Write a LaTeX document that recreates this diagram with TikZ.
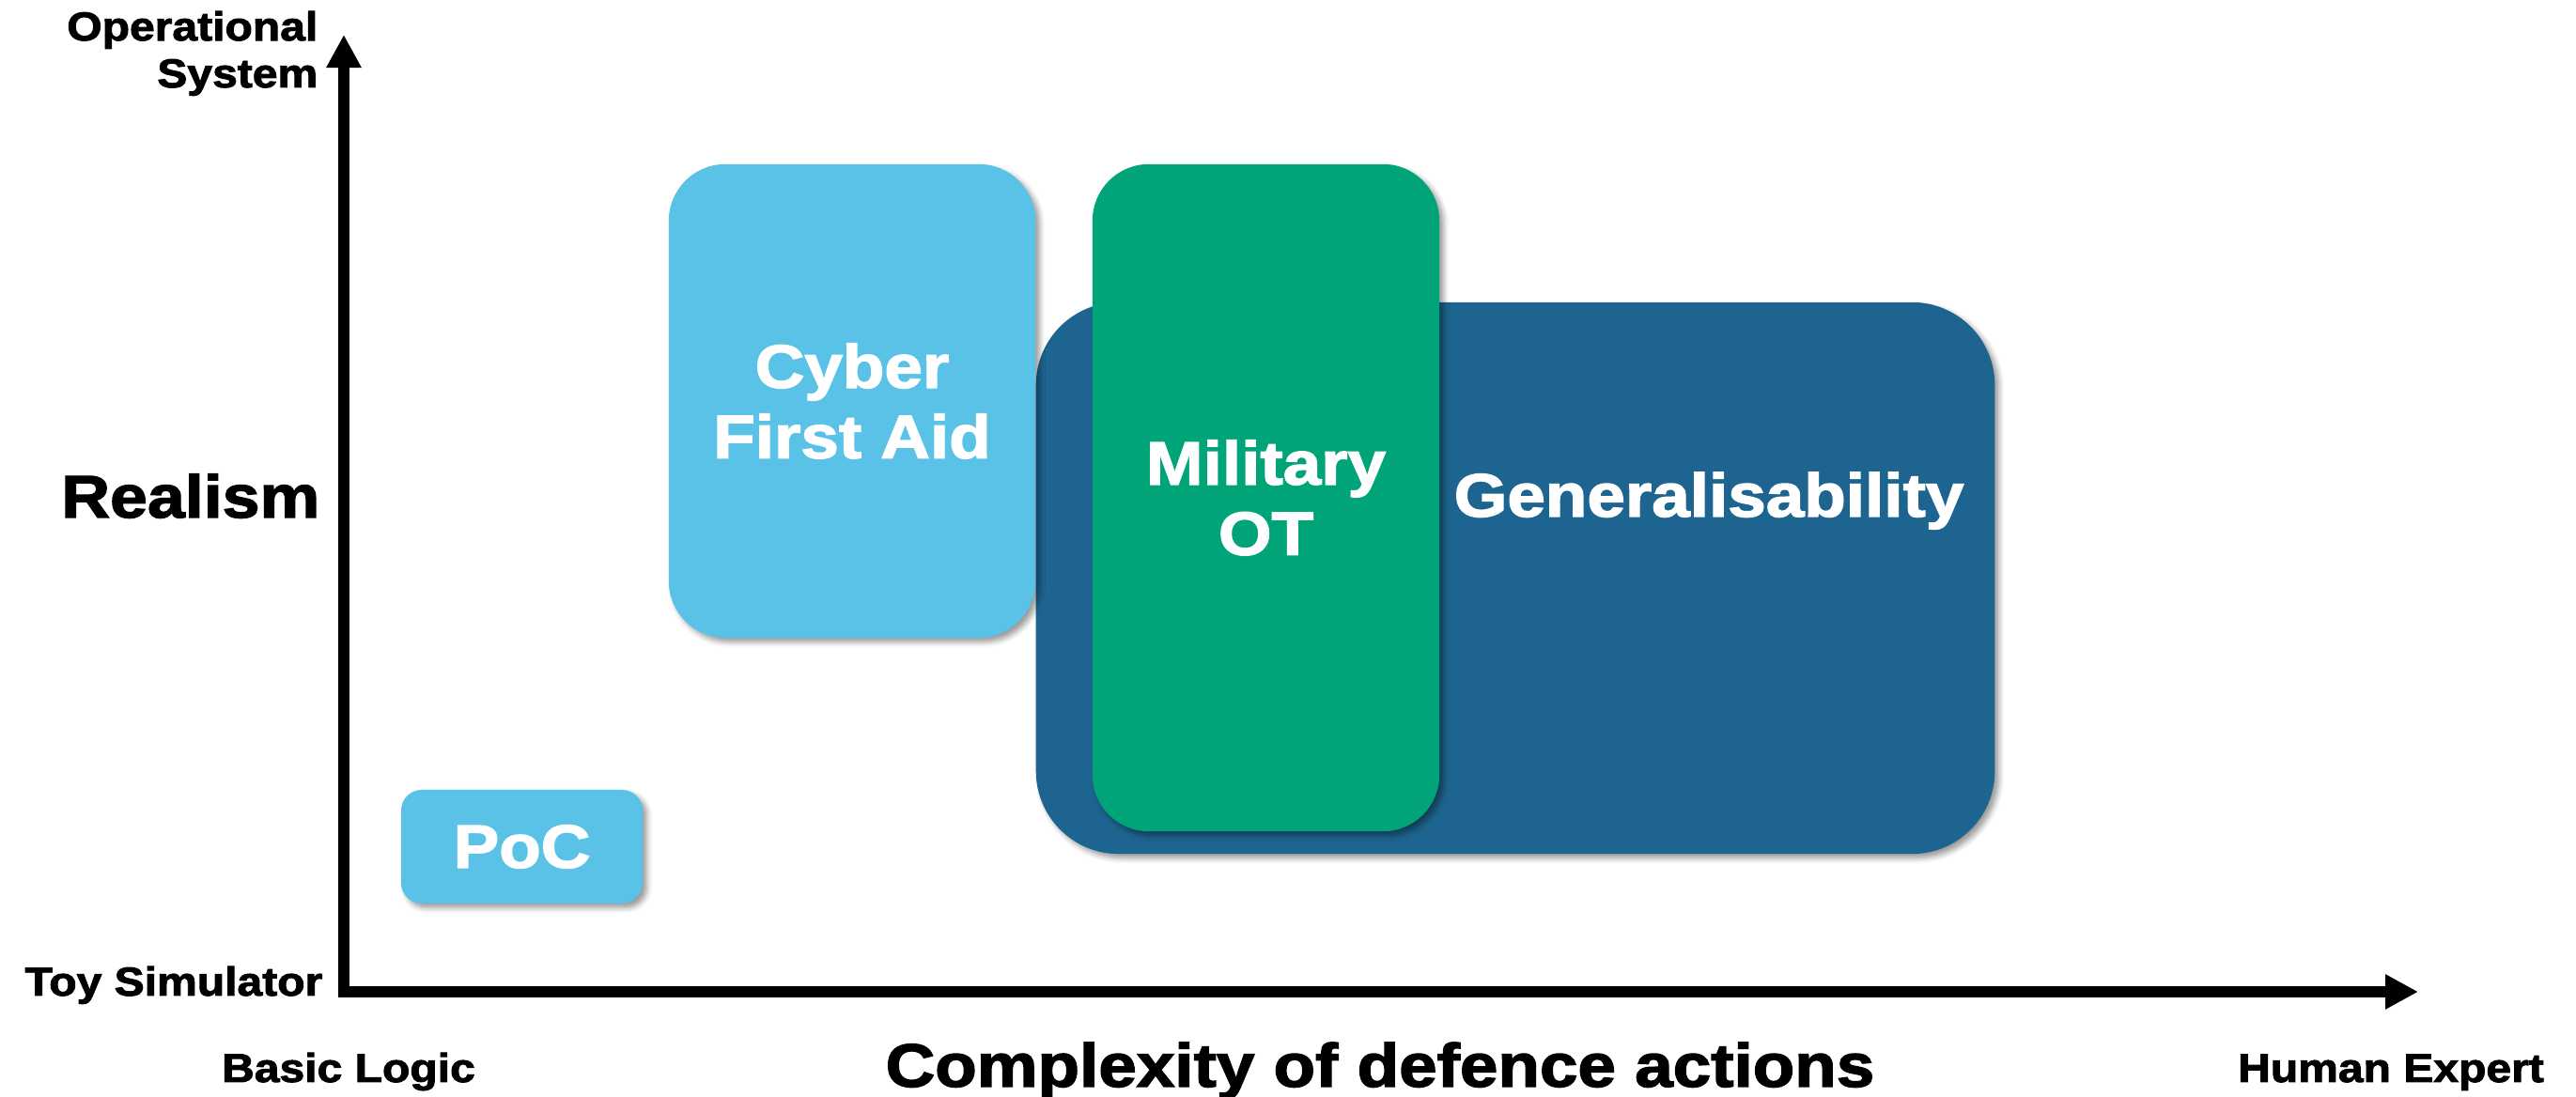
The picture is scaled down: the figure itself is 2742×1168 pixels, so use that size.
\documentclass[tikz,border=0pt]{standalone}
\usepackage{fontspec}
\setmainfont{Liberation Sans}[FakeStretch=1.12, BoldFeatures={FakeBold=2.2}]
\usetikzlibrary{arrows.meta,shadows.blur}

\definecolor{skyfill}{HTML}{5BC2E7}
\definecolor{navyfill}{HTML}{1D6590}
\definecolor{greenfill}{HTML}{00A478}

\newcommand{\tickfont}{\fontsize{12.2pt}{14.2pt}\selectfont\bfseries}
\newcommand{\bigfont}{\fontsize{18.5pt}{21.3pt}\selectfont\bfseries}

\begin{document}
\begin{tikzpicture}[x=0.01cm, y=-0.01cm,
  axisline/.style={line width=0.12cm, line join=miter,
    {Triangle[length=0.35cm,width=0.35cm]}-{Triangle[length=0.35cm,width=0.35cm]}},
  softshadow/.style={blur shadow={shadow xshift=1.3pt, shadow yshift=-1.3pt,
    shadow blur radius=1.6pt, shadow opacity=40}},
  stagebox/.style={rectangle, draw=none, inner sep=0pt, text=white,
    font=\bigfont, align=center, softshadow},
  endlabel/.style={font=\tickfont, inner sep=0pt, align=right},
  axislabel/.style={font=\bigfont, inner sep=0pt}
]
\useasboundingbox (0,0) rectangle (2742,1168);

% axes
\coordinate (ytip) at (366,37);
\coordinate (orig) at (366,1056);
\coordinate (xtip) at (2574,1056);
\draw[axisline] (ytip) -- (orig) -- (xtip);

% stages of the roadmap
\node[stagebox, fill=navyfill, minimum width=10.20cm, minimum height=5.87cm,
  rounded corners=0.88cm] (gen) at (1613,615.5) {};
\node[text=white, font=\bigfont, inner sep=0pt, anchor=base] (gentext) at (1819,550) {Generalisability};
\node[stagebox, fill=skyfill, minimum width=3.90cm, minimum height=5.04cm,
  rounded corners=0.60cm] (cfa) at (907,427) {Cyber\\First Aid};
\node[stagebox, fill=greenfill, minimum width=3.69cm, minimum height=7.10cm,
  rounded corners=0.60cm] (mot) at (1347.5,530) {Military\\OT};
\node[stagebox, fill=skyfill, minimum width=2.57cm, minimum height=1.21cm,
  rounded corners=0.22cm] (poc) at (555.5,901.5) {PoC};

% axis annotations
\node[endlabel, anchor=base east] (opsys) at (339,93) {Operational\\System};
\node[endlabel, anchor=base east] (toy) at (344,1060) {Toy Simulator};
\node[endlabel, anchor=base] (basic) at (371,1152) {Basic Logic};
\node[endlabel, anchor=base] (human) at (2545,1152) {Human Expert};
\node[axislabel, anchor=base east, font=\fontsize{18.2pt}{21pt}\selectfont\bfseries] (realism) at (341,551) {Realism};
\node[axislabel, anchor=base] (complexity) at (1469,1157) {Complexity of defence actions};
\end{tikzpicture}
\end{document}
